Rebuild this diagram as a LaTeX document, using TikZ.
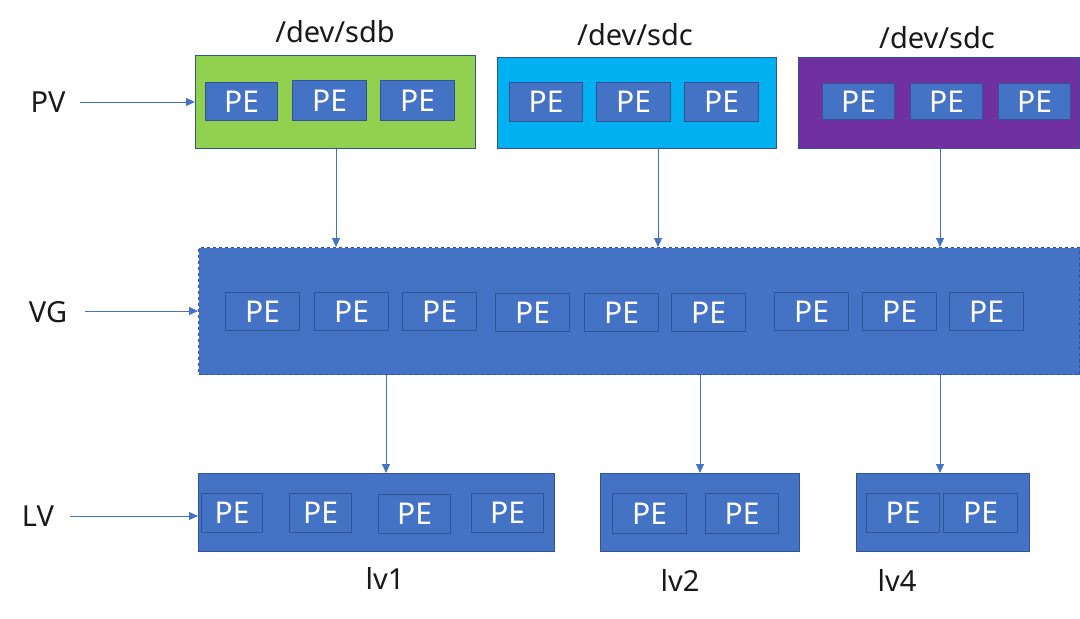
\documentclass[tikz,border=0pt]{standalone}
\usepackage{fontspec}
\setmainfont{Noto Sans}
\usetikzlibrary{arrows.meta}
\definecolor{peblue}{HTML}{4472C4}
\definecolor{peedge}{HTML}{2F5597}
\definecolor{pvgreen}{HTML}{92D050}
\definecolor{pvcyan}{HTML}{00B0F0}
\definecolor{pvpurple}{HTML}{7030A0}
\definecolor{arrowblue}{HTML}{4472C4}
\tikzset{
  box/.style={anchor=north west, inner sep=0pt, draw=peedge, line width=1.2pt},
  pe/.style={anchor=north west, inner sep=0pt, draw=peedge, line width=1.2pt, fill=peblue, text=white,
    font=\fontsize{30}{33}\selectfont},
  lab/.style={text=black!90, font=\fontsize{29}{32}\selectfont, inner sep=0pt},
  arr/.style={draw=arrowblue, line width=0.9pt, -{Triangle[length=9pt,width=8pt]}}
}
\begin{document}
\begin{tikzpicture}[x=1pt,y=-1pt]
\useasboundingbox (0,0) rectangle (1080,619);
% PV containers
\node[box, fill=pvgreen, minimum width=280pt, minimum height=93pt] (sdb) at (195,55) {};
\node[box, fill=pvcyan, minimum width=279pt, minimum height=91pt] (sdc1) at (497,57) {};
\node[box, fill=pvpurple, minimum width=281pt, minimum height=91pt] (sdc2) at (798,57) {};
% PV PEs
\node[pe, minimum width=72pt, minimum height=38pt] (p1) at (205,82) {PE};
\node[pe, minimum width=74pt, minimum height=40pt] (p2) at (292,80) {PE};
\node[pe, minimum width=74pt, minimum height=40pt] (p3) at (380,80) {PE};
\node[pe, minimum width=73pt, minimum height=39pt] (p4) at (509,82) {PE};
\node[pe, minimum width=74pt, minimum height=39pt] (p5) at (596,82) {PE};
\node[pe, minimum width=74pt, minimum height=39pt] (p6) at (684,82) {PE};
\node[pe, minimum width=72pt, minimum height=36pt] (p7) at (822,83) {PE};
\node[pe, minimum width=72pt, minimum height=36pt] (p8) at (910,83) {PE};
\node[pe, minimum width=72pt, minimum height=36pt] (p9) at (998,83) {PE};
% device labels
\node[lab] (lsdb) at (335,32) {/dev/sdb};
\node[lab] (lsdc1) at (635,35) {/dev/sdc};
\node[lab] (lsdc2) at (937,38) {/dev/sdc};
% VG
\node[box, fill=peblue, draw=peedge, dashed, minimum width=881pt, minimum height=127pt] (vg) at (198,247) {};
\foreach \n/\x/\y in {1/225/292, 2/314/292, 3/402/292, 4/495/293, 5/584/293, 6/671/293, 7/774/292, 8/862/292, 9/949/292}{
  \node[pe, minimum width=74pt, minimum height=38pt] (v\n) at (\x,\y) {PE};
}
% LV boxes
\node[box, fill=peblue, minimum width=356pt, minimum height=78pt] (lv1) at (198,473) {};
\node[box, fill=peblue, minimum width=199pt, minimum height=78pt] (lv2) at (600,473) {};
\node[box, fill=peblue, minimum width=173pt, minimum height=78pt] (lv4) at (856,473) {};
\node[pe, minimum width=61pt, minimum height=39pt] (l1) at (201,493) {PE};
\node[pe, minimum width=62pt, minimum height=39pt] (l2) at (289,493) {PE};
\node[pe, minimum width=72pt, minimum height=39pt] (l3) at (378,494) {PE};
\node[pe, minimum width=72pt, minimum height=39pt] (l4) at (471,493) {PE};
\node[pe, minimum width=74pt, minimum height=40pt] (l5) at (612,493) {PE};
\node[pe, minimum width=73pt, minimum height=40pt] (l6) at (705,493) {PE};
\node[pe, minimum width=73pt, minimum height=39pt] (l7) at (866,493) {PE};
\node[pe, minimum width=74pt, minimum height=39pt] (l8) at (943,493) {PE};
\node[lab] (llv1) at (385,578) {lv1};
\node[lab] (llv2) at (680,580) {lv2};
\node[lab] (llv4) at (897,580) {lv4};
% row labels
\node[lab] (pv) at (48,102) {PV};
\node[lab] (vgl) at (48,312) {VG};
\node[lab] (lvl) at (38,516) {LV};
\coordinate (pvs) at (80,102);
\coordinate (vgs) at (85,311);
\coordinate (lvs) at (70,516);
\draw[arr] (pvs) -- (sdb.west |- pvs);
\draw[arr] (vgs) -- (vg.west |- vgs);
\draw[arr] (lvs) -- (lv1.west |- lvs);
% PV -> VG
\draw[arr] (sdb.south -| 336,0) -- (vg.north -| 336,0);
\draw[arr] (sdc1.south -| 658,0) -- (vg.north -| 658,0);
\draw[arr] (sdc2.south -| 940,0) -- (vg.north -| 940,0);
% VG -> LV
\draw[arr] (vg.south -| 386,0) -- (lv1.north -| 386,0);
\draw[arr] (vg.south -| 700,0) -- (lv2.north -| 700,0);
\draw[arr] (vg.south -| 940,0) -- (lv4.north -| 940,0);
\end{tikzpicture}
\end{document}
